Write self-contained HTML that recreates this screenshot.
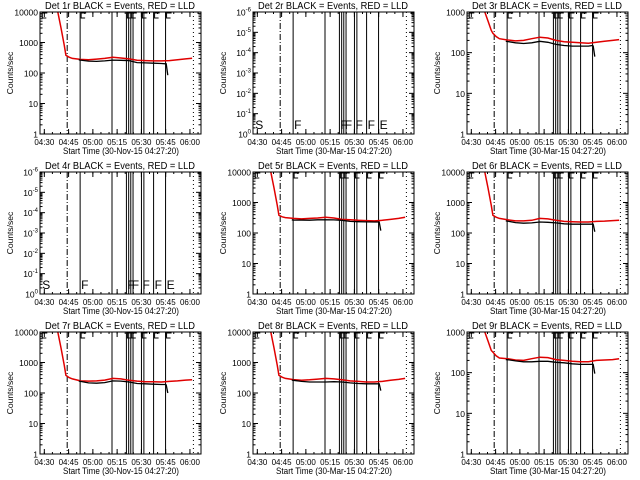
<!DOCTYPE html>
<html><head><meta charset="utf-8"><style>
html,body{margin:0;padding:0;background:#fff;}
svg{display:block;font-family:"Liberation Sans",sans-serif;}
</style></head><body>
<svg id="chart" width="640" height="480" viewBox="0 0 640 480"></svg>
<script>
// ---- data (minutes since 04:27:20) ----
const tickLabels = ["04:30","04:45","05:00","05:15","05:30","05:45","06:00"];
const tickMinutes = [2.67,17.67,32.67,47.67,62.67,77.67,92.67];
const dashDotLine = [16.8];
const solidLines = [24.8,44.5,53.4,54.8,56.1,57.5,62.7,64.2,70.2,77.6];
const dottedLine = [94.8];
const markerLetters = ["S","F","F","F","F","F","E"];
const markerMinutes = [0.8,24.8,53.4,56.1,62.7,70.2,77.6];
const detNames = ["1r","2r","3r","4r","5r","6r","7r","8r","9r"];
const redT = [11,13,15,16,18,20,25,30,35,40,45,50,55,60,65,70,75,80,85,90,94];
const blackT = [24,25,30,35,40,45,50,55,60,65,70,75,77.6,78,79];
const red1 = [10000,3000,800,380,330,300,280,270,285,300,330,310,290,260,255,250,250,255,270,290,305];
const black1 = [270,265,245,240,250,265,260,255,220,215,210,205,200,200,85];
const red3 = [1000,600,350,300,250,220,205,195,200,220,240,230,200,185,180,175,170,180,190,200,210];
const black3 = [190,188,175,168,175,190,180,160,150,145,145,145,150,145,80];
const red5 = [10000,3000,800,380,340,320,300,290,300,310,330,310,280,270,260,255,250,260,280,300,330];
const black5 = [270,265,265,262,270,270,268,260,240,235,232,230,230,230,120];
const red6 = [10000,3000,800,380,330,300,270,250,250,260,300,290,260,240,235,230,230,240,245,255,260];
const black6 = [250,245,220,210,215,230,225,215,200,195,195,195,195,195,110];
const red7 = [10000,3000,800,380,320,290,250,245,250,265,300,290,260,245,235,235,230,240,250,265,270];
const black7 = [245,240,215,210,220,250,245,230,205,200,195,190,190,185,100];
const red8 = [10000,3000,800,380,330,300,275,260,270,285,300,290,270,250,240,230,230,240,260,280,300];
const black8 = [265,260,240,230,230,230,235,230,215,205,200,200,200,200,120];
const red9 = [1000,600,350,320,260,230,220,205,200,220,240,235,210,200,190,185,185,200,205,210,220];
const black9 = [210,208,195,185,185,190,190,180,175,165,160,160,160,160,95];
const redSeries = [red1,null,red3,null,red5,red6,red7,red8,red9];
const blackSeries = [black1,null,black3,null,black5,black6,black7,black8,black9];
// -----------------------------------------
const NS="http://www.w3.org/2000/svg";
const svg=document.getElementById('chart');
function mk(tag,attrs,parent){const e=document.createElementNS(NS,tag);for(const k in attrs)e.setAttribute(k,attrs[k]);(parent||svg).appendChild(e);return e;}
const colX=[0,213,427];
const T0=0,T1=99.5;
for(let p=0;p<9;p++){
  const c=p%3,r=Math.floor(p/3);
  const ox=colX[c],oy=r*160;
  const L=ox+40,R=ox+201,T=oy+12,B=oy+134;
  const g=mk('g',{});
  
  
  const xs=t=>L+(t-T0)/(T1-T0)*(R-L);
  let ymin=0,ymax;
  if(p===1||p===3){ymax=6;}
  else if(p===2||p===8){ymax=3;}
  else {ymax=4;}
  const ys=v=>B-(Math.log10(v)-ymin)/(ymax-ymin)*(B-T);
  const yd=d=>B-(d-ymin)/(ymax-ymin)*(B-T);
  const tt=mk('text',{x:ox+120,y:oy+9,'font-size':10,'text-anchor':'middle',fill:'#000',textLength:150,lengthAdjust:'spacingAndGlyphs'},g);
  tt.textContent='Det '+detNames[p]+' BLACK = Events, RED = LLD';
  
  
  dashDotLine.forEach(m=>{const l=mk('line',{x1:xs(m),x2:xs(m),y1:T,y2:B,stroke:'#000','stroke-width':1,'stroke-dasharray':'6,2,1,2'},g);
    });
  solidLines.forEach(m=>{const l=mk('line',{x1:xs(m),x2:xs(m),y1:T,y2:B,stroke:'#000','stroke-width':1},g);
    });
  dottedLine.forEach(m=>{const l=mk('line',{x1:xs(m),x2:xs(m),y1:T,y2:B,stroke:'#000','stroke-width':1,'stroke-dasharray':'1,3'},g);
    });
  const noData=(p===1||p===3);
  markerMinutes.forEach((m,i)=>{
    if(noData){
      const tx=mk('text',{x:xs(m)+1,y:B-5,'font-size':12,fill:'#000'},g);
      tx.textContent=markerLetters[i];
      
    } else {
      const x=xs(m)+1;
      const st=mk('path',{d:'M'+x+','+(T+1)+' h5 M'+x+','+T+' v6 h4',fill:'none',stroke:'#000','stroke-width':1},g);
      
    }
  });
  const rs=redSeries[p],bs=blackSeries[p];
  if(rs){
    const pts=redT.map((t,i)=>xs(t).toFixed(1)+','+Math.max(T,ys(rs[i])).toFixed(1)).join(' ');
    const pl=mk('polyline',{points:pts,fill:'none',stroke:'#e00000','stroke-width':1.5},g);
    
  }
  if(bs){
    const pts=blackT.map((t,i)=>xs(t).toFixed(1)+','+ys(bs[i]).toFixed(1)).join(' ');
    const pl=mk('polyline',{points:pts,fill:'none',stroke:'#000','stroke-width':1.3},g);
    
  }
  const fr=mk('rect',{x:L,y:T,width:R-L,height:B-T,fill:'none',stroke:'#000','stroke-width':1},g);
  
  tickMinutes.forEach((m,i)=>{
    const x=xs(m);
    mk('line',{x1:x,x2:x,y1:B,y2:B-5,stroke:'#000'},g);
    mk('line',{x1:x,x2:x,y1:T,y2:T+5,stroke:'#000'},g);
    const lb=mk('text',{x:x,y:B+11,'font-size':8.5,'text-anchor':'middle',fill:'#000',textLength:20,lengthAdjust:'spacingAndGlyphs'},g);
    lb.textContent=tickLabels[i];
    
  });
  for(let m=2.67;m<T1;m+=5){const x=xs(m);mk('line',{x1:x,x2:x,y1:B,y2:B-2,stroke:'#000'},g);mk('line',{x1:x,x2:x,y1:T,y2:T+2,stroke:'#000'},g);}
  const xt=mk('text',{x:ox+121,y:B+20,'font-size':9.5,'text-anchor':'middle',fill:'#000',textLength:116,lengthAdjust:'spacingAndGlyphs'},g);
  xt.textContent=(c===0?'Start Time (30-Nov-15 04:27:20)':'Start Time (30-Mar-15 04:27:20)');
  
  for(let d=ymin;d<=ymax;d++){
    const y=yd(d);
    mk('line',{x1:L,x2:L+5,y1:y,y2:y,stroke:'#000'},g);
    mk('line',{x1:R,x2:R-5,y1:y,y2:y,stroke:'#000'},g);
    if(d<ymax)for(let k=2;k<10;k++){const yy=yd(d+Math.log10(k));mk('line',{x1:L,x2:L+2.5,y1:yy,y2:yy,stroke:'#000'},g);mk('line',{x1:R,x2:R-2.5,y1:yy,y2:yy,stroke:'#000'},g);}
    const lb=mk('text',{x:L-2,y:y+3.5,'font-size':8.5,'text-anchor':'end',fill:'#000'},g);
    if(noData){
      lb.textContent='10';
      const s=mk('tspan',{dy:-4,'font-size':6},lb);
      s.textContent=(d===0?'0':'-'+d);
    } else {
      lb.textContent=String(Math.pow(10,d));
    }
    
  }
  const yt=mk('text',{x:0,y:0,'font-size':8.5,'text-anchor':'middle',fill:'#000',transform:'translate('+(ox+13)+','+((T+B)/2)+') rotate(-90)'},g);
  yt.textContent='Counts/sec';
  
}
</script>
</body></html>
